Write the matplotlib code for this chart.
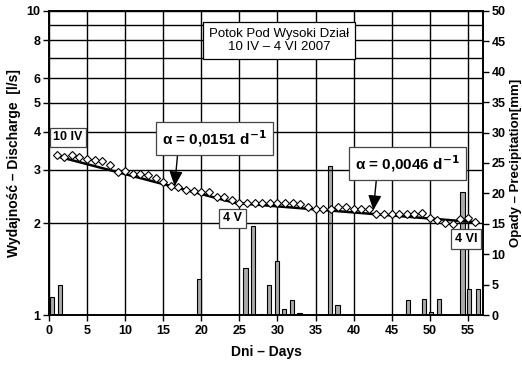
import matplotlib.pyplot as plt
import numpy as np
from matplotlib.ticker import FixedLocator, NullFormatter

# fonts: Arial-like look
plt.rcParams['font.family'] = ['Liberation Sans', 'DejaVu Sans']

# discharge [l/s], one reading per day (days 1..56)
days = list(range(1, 57))
discharge = [3.37, 3.32, 3.35, 3.30, 3.25, 3.23, 3.20, 3.11, 2.95, 2.97,
             2.92, 2.90, 2.88, 2.83, 2.74, 2.65, 2.63, 2.58, 2.56, 2.53,
             2.54, 2.45, 2.45, 2.39, 2.33, 2.34, 2.34, 2.34, 2.33, 2.33,
             2.34, 2.34, 2.32, 2.26, 2.24, 2.24, 2.24, 2.26, 2.26, 2.24,
             2.24, 2.23, 2.15, 2.15, 2.15, 2.15, 2.15, 2.15, 2.16, 2.08,
             2.06, 2.01, 1.99, 2.07, 2.08, 2.03]

# precipitation [mm]
rain_days = [0.4, 1.45, 19.7, 25.8, 26.8, 27.8, 28.9, 29.9, 30.9, 31.9,
             32.9, 36.9, 37.9, 47.2, 49.2, 50.2, 51.2, 54.3, 55.2, 56.3]
rain_mm = [2.9, 4.9, 5.9, 7.8, 14.6, 0.2, 4.9, 8.9, 1.0, 2.5,
           0.4, 24.5, 1.6, 2.5, 2.6, 0.5, 2.6, 20.2, 4.3, 4.3]

# recession fits: Q = q0 * exp(-alpha * (t - t0))
fit1 = dict(t0=1, t1=25, q0=3.33, alpha=0.0151)
fit2 = dict(t0=25, t1=56, q0=2.33, alpha=0.0046)

fig = plt.figure(figsize=(5.22, 3.66), dpi=100)
ax2 = fig.add_axes([0.0939, 0.1393, 0.8314, 0.8307])
ax = ax2.twinx()
ax.yaxis.tick_left()
ax.yaxis.set_label_position('left')
ax2.yaxis.tick_right()
ax2.yaxis.set_label_position('right')

# bars (right axis)
ax2.bar(rain_days, rain_mm, width=0.55, color='#aaaaaa', edgecolor='black', linewidth=0.8)
ax2.set_ylim(0, 50)
ax2.set_yticks(np.arange(0, 51, 5))
ax2.set_xlim(0, 57)
ax2.set_xticks(np.arange(0, 56, 5))
ax2.tick_params(axis='y', direction='out', length=4, width=1, labelsize=9, pad=2)
ax2.tick_params(axis='x', direction='out', length=4, width=1, labelsize=9, pad=3)
for lab in ax2.get_yticklabels() + ax2.get_xticklabels():
    lab.set_fontweight('bold')
ax2.set_ylabel('Opady – Precipitation[mm]', fontsize=9.5, fontweight='bold')
ax2.yaxis.set_label_coords(1.062, 0.5)
ax2.set_xlabel('Dni – Days', fontsize=10, fontweight='bold', labelpad=6)
ax2.xaxis.grid(True, color='black', linewidth=1.0)
ax2.set_axisbelow(True)

# discharge (left log axis)
ax.set_yscale('log')
ax.set_ylim(1, 10)
ax.set_xlim(0, 57)
ax.yaxis.set_major_locator(FixedLocator([1, 2, 3, 4, 5, 6, 8, 10]))
ax.yaxis.set_minor_locator(FixedLocator([7, 9]))
ax.yaxis.set_major_formatter(plt.FuncFormatter(lambda v, p: '%d' % v))
ax.yaxis.set_minor_formatter(NullFormatter())
ax.tick_params(axis='y', which='major', direction='out', length=4, width=1, labelsize=9, pad=2)
ax.tick_params(axis='y', which='minor', length=0)
for lab in ax.get_yticklabels():
    lab.set_fontweight('bold')
ax.yaxis.grid(True, which='both', color='black', linewidth=1.0)
ax.set_ylabel('Wydajność – Discharge  [l/s]', fontsize=10, fontweight='bold', labelpad=4)

for f in (fit1, fit2):
    t = np.linspace(f['t0'], f['t1'], 50)
    ax.plot(t, f['q0'] * np.exp(-f['alpha'] * (t - f['t0'])), color='black', linewidth=1.8, zorder=3)

ax.plot(days, discharge, linestyle='none', marker='D', markersize=3.8,
        markerfacecolor='white', markeredgecolor='black', markeredgewidth=0.8, zorder=4)

for a in (ax, ax2):
    for s in a.spines.values():
        s.set_linewidth(1.2)

box = dict(boxstyle='square,pad=0.3', facecolor='white', edgecolor='#444444', linewidth=0.9)
ax.text(30.2, 8.0, 'Potok Pod Wysoki Dział\n10 IV – 4 VI 2007', fontsize=9.5,
        ha='center', va='center', linespacing=1.1,
        bbox=dict(boxstyle='square,pad=0.45', facecolor='white', edgecolor='black', linewidth=0.9),
        zorder=6)
ax.text(2.5, 3.84, '10 IV', fontsize=9, fontweight='bold', ha='center', va='center', bbox=box, zorder=6)
ax.text(24.1, 2.08, '4 V', fontsize=9, fontweight='bold', ha='center', va='center', bbox=box, zorder=6)
ax.text(54.8, 1.78, '4 VI', fontsize=9, fontweight='bold', ha='center', va='center', bbox=box, zorder=6)

abox = dict(boxstyle='square,pad=0.4', facecolor='white', edgecolor='#444444', linewidth=0.9)
arrow = dict(arrowstyle='-|>,head_length=0.9,head_width=0.4', mutation_scale=10,
             color='black', linewidth=1.0, shrinkA=0, shrinkB=0)
ax.annotate('', xy=(16.5, 2.65), xytext=(16.9, 3.40), arrowprops=arrow, zorder=5)
ax.annotate('', xy=(42.6, 2.21), xytext=(43.0, 2.80), arrowprops=arrow, zorder=5)
ax.text(21.7, 3.80, r'α = 0,0151 d$^{\mathbf{-1}}$', fontsize=11, fontweight='bold',
        ha='center', va='center', bbox=abox, zorder=6)
ax.text(47.1, 3.14, r'α = 0,0046 d$^{\mathbf{-1}}$', fontsize=11, fontweight='bold',
        ha='center', va='center', bbox=abox, zorder=6)

fig.savefig('out.png', dpi=100)
